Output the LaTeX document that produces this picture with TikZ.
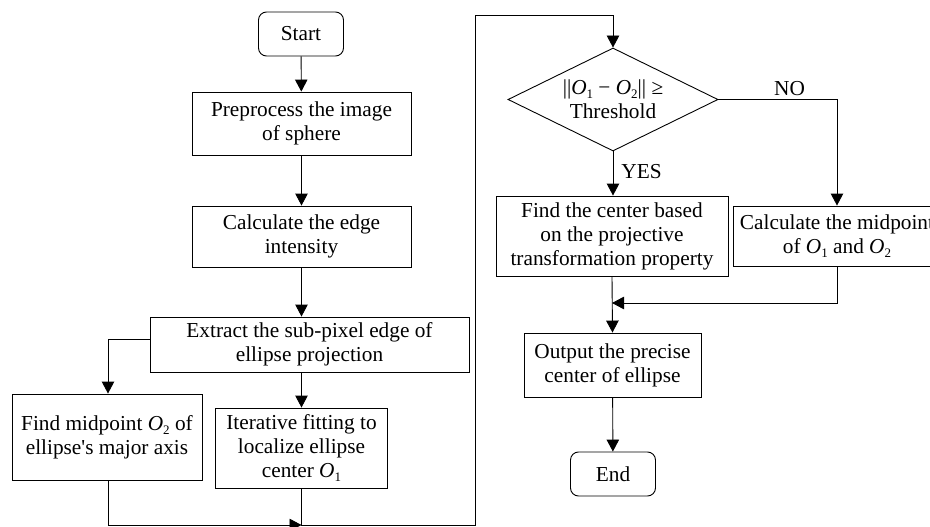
\documentclass[tikz,border=0pt]{standalone}
\usepackage{fontspec}
\setmainfont{Liberation Serif}
\usetikzlibrary{shapes.geometric,arrows.meta}
\newcommand{\sbs}[1]{\raisebox{-0.4ex}{\fontsize{13pt}{13pt}\selectfont #1}}
\begin{document}
\begin{tikzpicture}[x=1pt,y=-1pt,
  every node/.style={font=\fontsize{21.3pt}{24pt}\selectfont},
  box/.style={draw,line width=0.9pt,rectangle,align=center,inner sep=0pt},
  term/.style={draw,line width=0.9pt,rectangle,rounded corners=8pt,align=center,inner sep=0pt,minimum width=85pt,minimum height=44pt},
  dec/.style={draw,line width=0.9pt,diamond,aspect=2,inner sep=0pt,align=center,minimum width=210pt,minimum height=103pt},
  conn/.style={line width=0.9pt},
  arr/.style={conn,-{Triangle[length=12pt,width=12.5pt]}},
  lab/.style={inner sep=0pt}]
\useasboundingbox (0,0) rectangle (930,527);
\node[term] (start) at (301,34) {Start};
\node[box,minimum width=219pt,minimum height=63pt] (pre) at (301.5,123.5) {Preprocess the image\\of sphere};
\node[box,minimum width=219pt,minimum height=61pt] (calc) at (301.5,236.5) {Calculate the edge\\intensity};
\node[box,minimum width=319pt,minimum height=55pt] (ext) at (309.5,344.5) {Extract the sub-pixel edge of\\ellipse projection};
\node[box,minimum width=190pt,minimum height=86pt] (fo2) at (107,437) {Find midpoint \textit{O}\sbs{2} of\\ellipse\textquotesingle s major axis};
\node[box,minimum width=172pt,minimum height=80pt] (iter) at (301.5,448) {Iterative fitting to\\localize ellipse\\center \textit{O}\sbs{1}};
\node[dec] (dia) at (613,99.5) {||\textit{O}\sbs{1} − \textit{O}\sbs{2}|| ≥\\Threshold};
\node[box,minimum width=232pt,minimum height=80pt] (fc) at (612,236) {Find the center based\\on the projective\\transformation property};
\node[box,minimum width=208pt,minimum height=60pt] (cm) at (837,236) {Calculate the midpoint\\of \textit{O}\sbs{1} and \textit{O}\sbs{2}};
\node[box,minimum width=177pt,minimum height=64pt] (out) at (612.5,365) {Output the precise\\center of ellipse};
\node[term] (end) at (613,474) {End};
\coordinate (j) at (301.5,525);
\coordinate (b1) at (475,525);
\coordinate (t1) at (475,15);
\coordinate (m) at (612,303);
\draw[arr] (start) -- (pre);
\draw[arr] (pre) -- (calc);
\draw[arr] (calc.south) -- (calc.south |- ext.north);
\draw[arr] (iter.north |- ext.south) -- (iter.north);
\draw[arr] ([yshift=5.5pt]ext.west) -| ([xshift=1pt]fo2.north);
\draw[arr] ([xshift=1pt]fo2.south) |- (j);
\draw[conn] (iter.south) -- (j) -- (b1) -- (t1);
\draw[arr] (t1) -| (dia.north);
\draw[arr] (dia.south) -- node[lab,right=8pt,pos=0.45] {YES} (dia.south |- fc.north);
\draw[arr] (dia.east) -| node[lab,above=3pt,pos=0.3] {NO} (cm.north);
\draw[arr] (cm.south) |- (m);
\draw[arr] (fc.south) -- (out.north);
\draw[arr] (out) -- (end);
\end{tikzpicture}
\end{document}
